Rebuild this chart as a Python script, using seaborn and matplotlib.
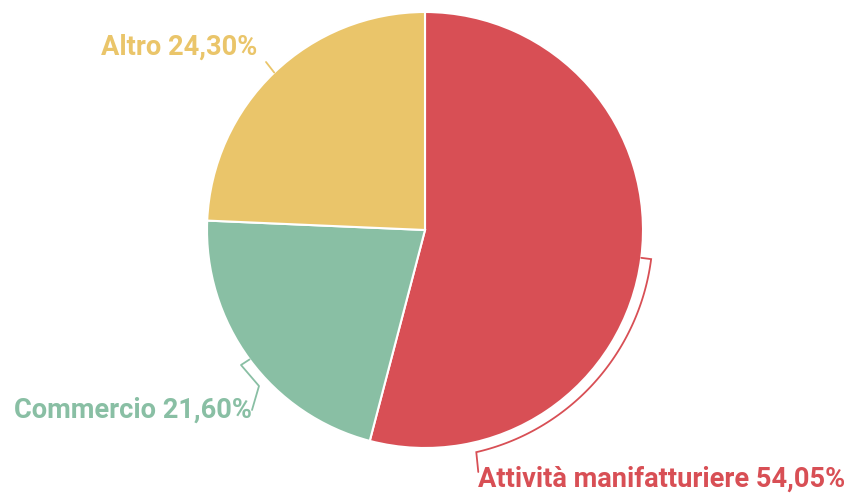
import numpy as np
import matplotlib
matplotlib.use("Agg")
import matplotlib.pyplot as plt
import seaborn as sns

# Dati del grafico
categorie = ["Attività manifatturiere", "Commercio", "Altro"]
quote = [54.05, 21.60, 24.30]
etichette = ["Attività manifatturiere 54,05%", "Commercio 21,60%", "Altro 24,30%"]
colori = ["#D84F55", "#89BFA4", "#EAC56A"]

sns.set_theme(style="white")
plt.rcParams["font.family"] = ["Roboto", "DejaVu Sans"]

W, H = 846, 493
fig = plt.figure(figsize=(W / 100, H / 100), dpi=100)
ax = fig.add_axes([0, 0, 1, 1])

# centro e raggio in pixel (y dal basso)
cx, cy, r = 425, H - 230, 218

wedges, _ = ax.pie(quote, colors=colori, startangle=90, counterclock=False,
                   center=(cx, cy), radius=r, frame=True,
                   wedgeprops=dict(edgecolor="white", linewidth=1.5))
ax.set_xlim(0, W)
ax.set_ylim(0, H)
ax.axis("off")


def punto(ang, rad):
    a = np.deg2rad(ang)
    return cx + rad * np.cos(a), cy + rad * np.sin(a)


def y(px):
    return H - px


medi = [(w.theta1 + w.theta2) / 2 for w in wedges]
stile_testo = dict(fontsize=19.6, fontweight="bold", va="center")

# Attività manifatturiere: parentesi curva lungo il bordo
ang0 = medi[0]
x0, y0 = punto(ang0, r)
arco = np.linspace(ang0, -77, 80)
ax_, ay_ = punto(arco, r + 10)
xs = [x0] + list(ax_) + [ax_[-1] + 2]
ys = [y0] + list(ay_) + [y(472)]
ax.plot(xs, ys, color=colori[0], lw=1.3, solid_joinstyle="miter")
ax.text(478, y(479), etichette[0], color=colori[0], ha="left", **stile_testo)

# Commercio: linea a zigzag
x0, y0 = punto(medi[1], r)
ax.plot([x0, 241, 259, 252], [y0, y(365), y(386), y(410)],
        color=colori[1], lw=1.3)
ax.text(252, y(410), etichette[1], color=colori[1], ha="right", **stile_testo)

# Altro: linea diritta
x0, y0 = punto(medi[2], r)
ax.plot([x0, 266], [y0, y(62)], color=colori[2], lw=1.3)
ax.text(257, y(47), etichette[2], color=colori[2], ha="right", **stile_testo)

fig.savefig("out.png", dpi=100)
